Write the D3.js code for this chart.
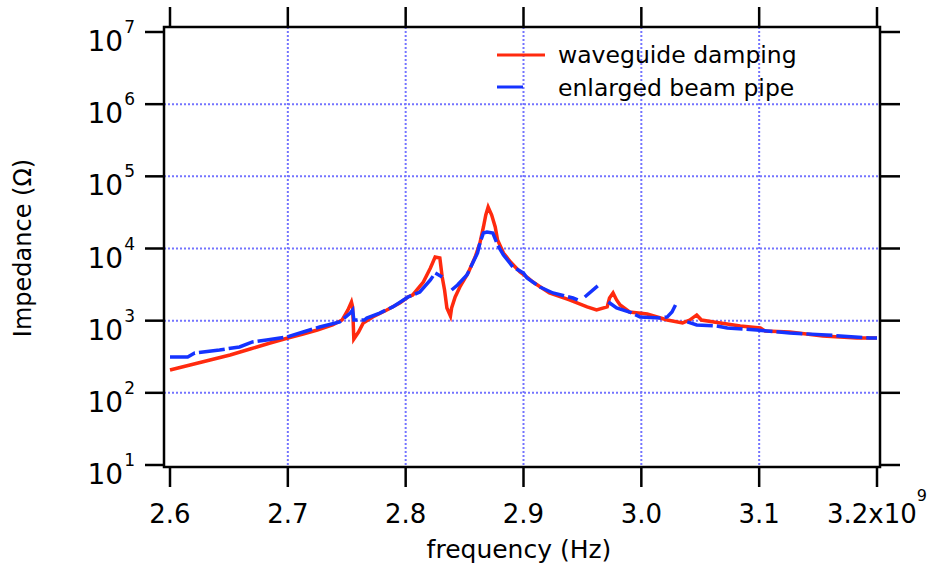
<!DOCTYPE html>
<html>
<head>
<meta charset="utf-8">
<script src="https://cdn.jsdelivr.net/npm/d3@7"></script>
<style>
  body { margin: 0; background: #fff; }
  svg { display: block; font-family: "DejaVu Sans", sans-serif; }
</style>
</head>
<body>
<div id="chart"></div>
<script>
let width = 930;
let height = 569;

// frequency in GHz, impedance in Ohm
const redFreq = [2.600, 2.617, 2.634, 2.651, 2.668, 2.685, 2.700, 2.713, 2.725, 2.738, 2.746, 2.751, 2.754, 2.755, 2.756, 2.760, 2.764, 2.772, 2.784, 2.795, 2.802,
  2.806, 2.815, 2.821, 2.825, 2.829, 2.831, 2.833, 2.835, 2.838, 2.839, 2.842, 2.846, 2.853, 2.859, 2.863, 2.866, 2.868, 2.870, 2.873, 2.876, 2.878, 2.883, 2.889, 2.897, 2.904,
  2.908, 2.922, 2.939, 2.954, 2.962, 2.971, 2.973, 2.976, 2.979, 2.982, 2.990, 3.005, 3.022, 3.035, 3.041, 3.047, 3.051, 3.067,
  3.084, 3.101, 3.105, 3.126, 3.154, 3.183, 3.200];
const redZ = [207, 243, 285, 334, 405, 491, 575, 653, 743, 871, 1020, 1405, 1815, 1549, 557, 697, 929, 1125, 1405, 1757, 2128,
  2270, 3435, 5370, 7630, 7380, 4030, 2660, 1500, 1160, 1500, 2128, 2930, 4580, 7630, 11900, 19860, 29100, 37600, 29100, 19860, 13100, 8670, 6500, 4730, 3900,
  3435, 2420, 1936, 1549, 1405, 1549, 2060, 2420, 1936, 1648, 1318, 1238, 1020, 929, 1020, 1200, 1020, 929,
  844, 792, 720, 697, 614, 575, 575];

// null = gap in the trace
const blueFreq = [2.600, 2.615, 2.621, 2.642, 2.659, 2.670, 2.682, 2.699, 2.713, 2.727, 2.744, 2.753, 2.755, 2.756, 2.765, 2.767, 2.778, 2.789, 2.802,
  2.812, 2.821, 2.825, 2.831, 2.835, 2.839, 2.844, 2.852, 2.861, 2.863, 2.866, 2.869, 2.874, 2.878, 2.883, 2.891, 2.900,
  2.903, 2.914, 2.925, 2.942, 2.946, 2.949, 2.952, 2.963, 2.967, 2.972, 2.979, 2.990, 2.999, 3.016, 3.022, 3.026, 3.029, 3.034,
  3.039, 3.047, 3.064, 3.073, 3.098, 3.126, 3.157, 3.194, 3.200];
const blueZ = [314, 314, 356, 393, 432, 507, 540, 594, 697, 818, 960, 1276, 1405, 1020, 1020, 1089, 1276, 1549, 2128,
  2495, 3664, 4580, 4030, null, 2660, 3120, 4300, 8670, 11900, 16400, 16900, 16400, 11200, 8130, 5550, 4580,
  3900, 2930, 2420, 2060, 1936, null, 2128, 3030, null, 1815, 1500, 1318, 1125, 1089, 1125, 1318, 1648, null,
  960, 871, 844, 792, 743, 675, 634, 575, 575];

const xTicks = [2.6, 2.7, 2.8, 2.9, 3.0, 3.1, 3.2];
const xTickLabels = ["2.6", "2.7", "2.8", "2.9", "3.0", "3.1", "3.2x10"];
const yTicks = [1e1, 1e2, 1e3, 1e4, 1e5, 1e6, 1e7];
const yExponents = ["1", "2", "3", "4", "5", "6", "7"];
const seriesNames = ["waveguide damping", "enlarged beam pipe"];
const seriesColors = ["#ff2a0e", "#1533ff"];

let svg = d3.select("#chart").append("svg")
  .attr("width", width)
  .attr("height", height);

const x = d3.scaleLinear().domain([2.6, 3.2]).range([170, 877]);
const y = d3.scaleLog().domain([10, 1e7]).range([465, 32]);

const frame = { left: 164, right: 880, top: 27, bottom: 467 };

// dotted grid
const gridColor = "#7474ff";
svg.selectAll(".vgrid")
  .data(xTicks.slice(1, -1))
  .join("line")
  .attr("class", "vgrid")
  .attr("x1", d => x(d)).attr("x2", d => x(d))
  .attr("y1", frame.top).attr("y2", frame.bottom)
  .attr("stroke", gridColor).attr("stroke-width", 2)
  .attr("stroke-dasharray", "2,2");

svg.selectAll(".hgrid")
  .data(yTicks.slice(1, -1))
  .join("line")
  .attr("class", "hgrid")
  .attr("x1", frame.left).attr("x2", frame.right)
  .attr("y1", d => y(d)).attr("y2", d => y(d))
  .attr("stroke", gridColor).attr("stroke-width", 2)
  .attr("stroke-dasharray", "2,2");

// traces
let line = d3.line()
  .defined(d => d[1] != null)
  .x(d => x(d[0]))
  .y(d => y(d[1]));

svg.append("path")
  .datum(redFreq.map((f, i) => [f, redZ[i]]))
  .attr("d", line)
  .attr("fill", "none")
  .attr("stroke", seriesColors[0])
  .attr("stroke-width", 3.5);

svg.append("path")
  .datum(blueFreq.map((f, i) => [f, blueZ[i]]))
  .attr("d", line)
  .attr("fill", "none")
  .attr("stroke", seriesColors[1])
  .attr("stroke-width", 3.5)
  .attr("stroke-dasharray", "26,4");

// frame and ticks
svg.append("rect")
  .attr("x", frame.left).attr("y", frame.top)
  .attr("width", frame.right - frame.left)
  .attr("height", frame.bottom - frame.top)
  .attr("fill", "none")
  .attr("stroke", "black")
  .attr("stroke-width", 2.5);

let ticks = svg.append("g").attr("stroke", "black").attr("stroke-width", 2.5);
xTicks.forEach(t => {
  ticks.append("line").attr("x1", x(t)).attr("x2", x(t)).attr("y1", frame.bottom).attr("y2", frame.bottom + 20);
  ticks.append("line").attr("x1", x(t)).attr("x2", x(t)).attr("y1", frame.top).attr("y2", frame.top - 20);
});
yTicks.forEach(t => {
  ticks.append("line").attr("x1", frame.left).attr("x2", frame.left - 19).attr("y1", y(t)).attr("y2", y(t));
  ticks.append("line").attr("x1", frame.right).attr("x2", frame.right + 20).attr("y1", y(t)).attr("y2", y(t));
});

// tick labels
let xl = svg.selectAll(".xlabel")
  .data(xTicks)
  .join("text")
  .attr("class", "xlabel")
  .attr("x", d => x(d))
  .attr("y", 523)
  .attr("text-anchor", "middle")
  .attr("font-size", 26);
xl.append("tspan").text((d, i) => xTickLabels[i]);
xl.filter((d, i) => i == xTicks.length - 1)
  .append("tspan")
  .attr("font-size", 16)
  .attr("dy", -22)
  .text("9");

let yl = svg.selectAll(".ylabel")
  .data(yTicks)
  .join("text")
  .attr("class", "ylabel")
  .attr("x", 135)
  .attr("y", d => y(d) + 19)
  .attr("text-anchor", "end")
  .attr("font-size", 28);
yl.append("tspan").text("10");
yl.append("tspan").attr("font-size", 17).attr("dx", 1).attr("dy", -18).text((d, i) => yExponents[i]);

// axis titles
svg.append("text")
  .attr("x", 519).attr("y", 558)
  .attr("text-anchor", "middle")
  .attr("font-size", 25)
  .text("frequency (Hz)");

svg.append("text")
  .attr("transform", "translate(31,248) rotate(-90)")
  .attr("text-anchor", "middle")
  .attr("font-size", 24)
  .text("Impedance (Ω)");

// legend
const legend = svg.append("g");
legend.append("line")
  .attr("x1", 497).attr("x2", 545).attr("y1", 55).attr("y2", 55)
  .attr("stroke", seriesColors[0]).attr("stroke-width", 3);
legend.append("line")
  .attr("x1", 497).attr("x2", 523).attr("y1", 87).attr("y2", 87)
  .attr("stroke", seriesColors[1]).attr("stroke-width", 3);
legend.selectAll("text")
  .data(seriesNames)
  .join("text")
  .attr("x", 558)
  .attr("y", (d, i) => 63 + i * 33)
  .attr("font-size", 23.5)
  .text(d => d);
</script>
</body>
</html>
